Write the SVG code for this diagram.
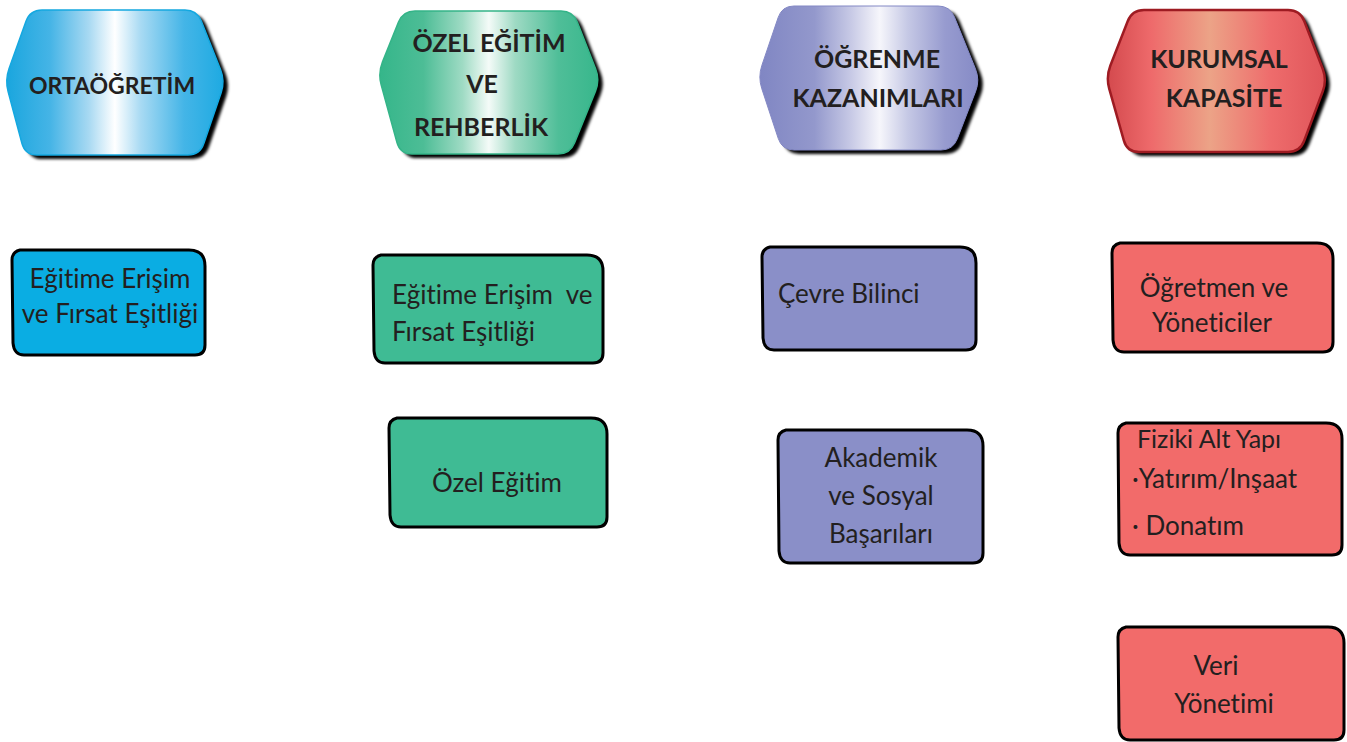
<svg xmlns="http://www.w3.org/2000/svg" width="1347" height="742" viewBox="0 0 1347 742">
<defs>
<linearGradient id="gBlue" x1="0" y1="0" x2="1" y2="0">
<stop offset="0" stop-color="#1aa6de"/><stop offset="0.2" stop-color="#45b4e6"/><stop offset="0.38" stop-color="#a8d9f2"/><stop offset="0.5" stop-color="#ffffff"/><stop offset="0.62" stop-color="#a8daf3"/><stop offset="0.82" stop-color="#44b5e7"/><stop offset="1" stop-color="#1eaae2"/>
</linearGradient>
<linearGradient id="gGreen" x1="0" y1="0" x2="1" y2="0">
<stop offset="0" stop-color="#35b68a"/><stop offset="0.2" stop-color="#4dbd96"/><stop offset="0.38" stop-color="#9fdbc4"/><stop offset="0.5" stop-color="#f4fbf8"/><stop offset="0.62" stop-color="#9fdac4"/><stop offset="0.82" stop-color="#4fbe98"/><stop offset="1" stop-color="#38b78c"/>
</linearGradient>
<linearGradient id="gPurple" x1="0" y1="0" x2="1" y2="0">
<stop offset="0" stop-color="#8086c3"/><stop offset="0.25" stop-color="#9398cc"/><stop offset="0.42" stop-color="#c8cae6"/><stop offset="0.55" stop-color="#f6f6fb"/><stop offset="0.68" stop-color="#c5c8e5"/><stop offset="0.85" stop-color="#979bcf"/><stop offset="1" stop-color="#868bc6"/>
</linearGradient>
<linearGradient id="gRed" x1="0" y1="0" x2="1" y2="0">
<stop offset="0" stop-color="#d44a4e"/><stop offset="0.2" stop-color="#ee6a6b"/><stop offset="0.47" stop-color="#eca387"/><stop offset="0.75" stop-color="#ee6c6c"/><stop offset="1" stop-color="#e0555a"/>
</linearGradient>
<filter id="shadow" x="-10%" y="-10%" width="130%" height="130%">
<feGaussianBlur stdDeviation="1.8"/>
</filter>
</defs>
<style>
.hd{font-family:Lato,"Open Sans",sans-serif;font-weight:bold;font-size:25px;fill:#231f20;font-variant-ligatures:none;}
.tx{font-family:Lato,"Open Sans",sans-serif;font-size:26px;fill:#231f20;font-variant-ligatures:none;}
.sh{fill:#000;filter:url(#shadow);}
.box{stroke:#000;stroke-width:3;stroke-linejoin:round;}
.blue{fill:#0aade3;}
.green{fill:#3fbb94;}
.purple{fill:#8a8fc8;}
.red{fill:#f26b6a;}
</style>

<g id="header-ortaogretim">
<path class="sh" transform="translate(5,4)" d="M 42,10 L 185,10 Q 197,10 201.4,21.2 L 220.6,69.8 Q 225,81 221.2,92.4 L 203.8,143.6 Q 200,155 188,155 L 37,155 Q 25,155 21.9,143.4 L 8.1,91.6 Q 5,80 9,68.7 L 26,21.3 Q 30,10 42,10 Z"/>
<path fill="url(#gBlue)" stroke="#14a8e0" stroke-width="1.5" d="M 42,10 L 185,10 Q 197,10 201.4,21.2 L 220.6,69.8 Q 225,81 221.2,92.4 L 203.8,143.6 Q 200,155 188,155 L 37,155 Q 25,155 21.9,143.4 L 8.1,91.6 Q 5,80 9,68.7 L 26,21.3 Q 30,10 42,10 Z"/>
<text class="hd" x="112" y="94" text-anchor="middle" style="font-size:23px">ORTAÖĞRETİM</text>
</g>

<g id="header-ozel-egitim">
<path class="sh" transform="translate(5,4)" d="M 415,11 L 561,11 Q 573,11 577.4,22.2 L 595.6,68.8 Q 600,80 595.5,91.1 L 574.5,142.9 Q 570,154 558,154 L 412,154 Q 400,154 396.9,142.4 L 381.1,84.6 Q 378,73 382.5,61.9 L 398.5,22.1 Q 403,11 415,11 Z"/>
<path fill="url(#gGreen)" stroke="#34b488" stroke-width="1.5" d="M 415,11 L 561,11 Q 573,11 577.4,22.2 L 595.6,68.8 Q 600,80 595.5,91.1 L 574.5,142.9 Q 570,154 558,154 L 412,154 Q 400,154 396.9,142.4 L 381.1,84.6 Q 378,73 382.5,61.9 L 398.5,22.1 Q 403,11 415,11 Z"/>
<text class="hd" x="489" y="52" text-anchor="middle">ÖZEL EĞİTİM</text>
<text class="hd" x="482" y="93" text-anchor="middle">VE</text>
<text class="hd" x="481" y="136" text-anchor="middle">REHBERLİK</text>
</g>

<g id="header-ogrenme">
<path class="sh" transform="translate(5,4)" d="M 794,6 L 938,6 Q 950,6 954.5,17.1 L 975.5,68.9 Q 980,80 975.7,91.2 L 957.3,138.8 Q 953,150 941,150 L 794,150 Q 782,150 778.3,138.6 L 761.7,88.4 Q 758,77 761.8,65.6 L 778.2,17.4 Q 782,6 794,6 Z"/>
<path fill="url(#gPurple)" stroke="#8388c4" stroke-width="1" d="M 794,6 L 938,6 Q 950,6 954.5,17.1 L 975.5,68.9 Q 980,80 975.7,91.2 L 957.3,138.8 Q 953,150 941,150 L 794,150 Q 782,150 778.3,138.6 L 761.7,88.4 Q 758,77 761.8,65.6 L 778.2,17.4 Q 782,6 794,6 Z"/>
<text class="hd" x="877" y="68" text-anchor="middle">ÖĞRENME</text>
<text class="hd" x="878" y="107" text-anchor="middle">KAZANIMLARI</text>
</g>

<g id="header-kurumsal">
<path class="sh" transform="translate(5,4)" d="M 1144,10 L 1288,10 Q 1300,10 1304.3,21.2 L 1322.7,68.8 Q 1327,80 1322.8,91.2 L 1304.2,140.8 Q 1300,152 1288,152 L 1139,152 Q 1127,152 1123.8,140.4 L 1109.2,88.6 Q 1106,77 1110.3,65.8 L 1127.7,21.2 Q 1132,10 1144,10 Z"/>
<path fill="url(#gRed)" stroke="#9e1b22" stroke-width="2.5" d="M 1144,10 L 1288,10 Q 1300,10 1304.3,21.2 L 1322.7,68.8 Q 1327,80 1322.8,91.2 L 1304.2,140.8 Q 1300,152 1288,152 L 1139,152 Q 1127,152 1123.8,140.4 L 1109.2,88.6 Q 1106,77 1110.3,65.8 L 1127.7,21.2 Q 1132,10 1144,10 Z"/>
<text class="hd" x="1219" y="68" text-anchor="middle">KURUMSAL</text>
<text class="hd" x="1224" y="107" text-anchor="middle">KAPASİTE</text>
</g>

<g id="connectors"></g>

<g id="box-erisim-1">
<path class="box blue" d="M 20,250 L 189,250 Q 205,250 205,266 L 205,345 Q 205,355 195,355 L 24,355 Q 14,355 13,343 L 12,260 Q 12,252 20,250 Z"/>
<text class="tx" x="110" y="288" text-anchor="middle">Eğitime Erişim</text>
<text class="tx" x="110" y="323" text-anchor="middle">ve Fırsat Eşitliği</text>
</g>

<g id="box-erisim-2">
<path class="box green" d="M 381,255 L 587,255 Q 603,255 603,271 L 603,353 Q 603,363 593,363 L 385,363 Q 375,363 374,351 L 373,265 Q 373,257 381,255 Z"/>
<text class="tx" x="392" y="304">Eğitime Erişim&#160; ve</text>
<text class="tx" x="392" y="341">Fırsat Eşitliği</text>
</g>

<g id="box-ozel-egitim">
<path class="box green" d="M 397,418 L 591,418 Q 607,418 607,434 L 607,517 Q 607,527 597,527 L 401,527 Q 391,527 390,515 L 389,428 Q 389,420 397,418 Z"/>
<text class="tx" x="497" y="492" text-anchor="middle">Özel Eğitim</text>
</g>

<g id="box-cevre">
<path class="box purple" d="M 770,247 L 960,247 Q 976,247 976,263 L 976,340 Q 976,350 966,350 L 774,350 Q 764,350 763,338 L 762,257 Q 762,249 770,247 Z"/>
<text class="tx" x="778" y="303">Çevre Bilinci</text>
</g>

<g id="box-akademik">
<path class="box purple" d="M 786,430 L 967,430 Q 983,430 983,446 L 983,553 Q 983,563 973,563 L 790,563 Q 780,563 779,551 L 778,440 Q 778,432 786,430 Z"/>
<text class="tx" x="881" y="467" text-anchor="middle">Akademik</text>
<text class="tx" x="881" y="505" text-anchor="middle">ve Sosyal</text>
<text class="tx" x="881" y="543" text-anchor="middle">Başarıları</text>
</g>

<g id="box-ogretmen">
<path class="box red" d="M 1120,243 L 1317,243 Q 1333,243 1333,259 L 1333,342 Q 1333,352 1323,352 L 1124,352 Q 1114,352 1113,340 L 1112,253 Q 1112,245 1120,243 Z"/>
<text class="tx" x="1214" y="297" text-anchor="middle">Öğretmen ve</text>
<text class="tx" x="1212" y="332" text-anchor="middle">Yöneticiler</text>
</g>

<g id="box-fiziki">
<path class="box red" d="M 1126,423 L 1326,423 Q 1342,423 1342,439 L 1342,545 Q 1342,555 1332,555 L 1130,555 Q 1120,555 1119,543 L 1118,433 Q 1118,425 1126,423 Z"/>
<text class="tx" x="1137" y="448" style="font-size:25px">Fiziki Alt Yapı</text>
<text class="tx" x="1132" y="488">·Yatırım/Inşaat</text>
<text class="tx" x="1132" y="535">· Donatım</text>
</g>

<g id="box-veri">
<path class="box red" d="M 1126,627 L 1328,627 Q 1344,627 1344,643 L 1344,730 Q 1344,740 1334,740 L 1130,740 Q 1120,740 1119,728 L 1118,637 Q 1118,629 1126,627 Z"/>
<text class="tx" x="1216" y="675" text-anchor="middle">Veri</text>
<text class="tx" x="1224" y="713" text-anchor="middle">Yönetimi</text>
</g>
</svg>
